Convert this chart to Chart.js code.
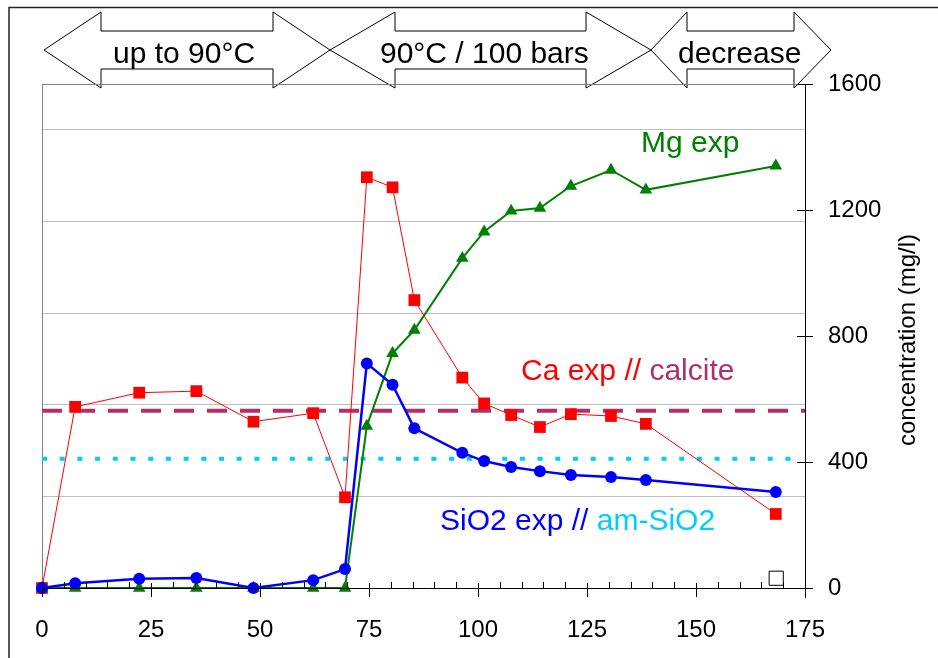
<!DOCTYPE html>
<html>
<head>
<meta charset="utf-8">
<script src="https://cdn.jsdelivr.net/npm/chart.js@4/dist/chart.umd.min.js"></script>
<style>
html,body{margin:0;padding:0;background:#fff;}
#wrap{width:938px;height:658px;position:relative;}
</style>
</head>
<body>
<div id="wrap"><canvas id="c" width="938" height="658"></canvas></div>
<script>
// ---- data ----
const days   = [0, 7.6, 22.3, 35.4, 48.5, 62.2, 69.5, 74.5, 80.4, 85.4, 96.4, 101.4, 107.6, 114.2, 121.3, 130.5, 138.5, 168.3];
const caExp  = [0, 575, 620, 625, 528, 555, 288, 1304, 1272, 914, 668, 586, 549, 511, 552, 546, 521, 235];
const sio2Exp= [0, 15, 29, 32, 0, 25, 60, 713, 645, 507, 429, 403, 384, 371, 359, 352, 343, 305];
const mgExp  = [0, 0, 0, 0, 0, 0, 0, 514, 745, 819, 1047, 1131, 1197, 1206, 1276, 1327, 1264, 1340];
const calciteLevel = 563;
const amSiO2Level  = 410;
const openMarker   = {x: 168.4, y: 31};
const xTickValues  = [0, 25, 50, 75, 100, 125, 150, 175];
const yTickValues  = [0, 400, 800, 1200, 1600];
const phases = ["up to 90°C", "90°C / 100 bars", "decrease"];
const yTitle = "concentration (mg/l)";

const FONT = "'Liberation Sans', Arial, sans-serif";
const pts = arr => days.map((d, i) => ({x: d, y: arr[i]}));

const overlay = {
  id: 'overlay',
  beforeDraw(chart) {
    const ctx = chart.ctx;
    ctx.save();
    ctx.fillStyle = '#fff';
    ctx.fillRect(0, 0, chart.width, chart.height);
    ctx.restore();
  },
  afterDraw(chart) {
    const ctx = chart.ctx;
    const xs = chart.scales.x, ys = chart.scales.y;
    const L = chart.chartArea.left, R = chart.chartArea.right, T = chart.chartArea.top, B = chart.chartArea.bottom;
    ctx.save();
    // outer frame
    ctx.strokeStyle = '#222';
    ctx.lineWidth = 1.5;
    ctx.beginPath();
    ctx.moveTo(9, 660); ctx.lineTo(9, 7.5); ctx.lineTo(940, 7.5);
    ctx.stroke();

    // phase arrows
    const arrows = [
      {l: 44, lb: 101, rb: 273, r: 330},
      {l: 330, lb: 395, rb: 586, r: 651},
      {l: 651, lb: 687, rb: 794, r: 831}
    ];
    const cy = 50, hT = 12, hB = 88, sT = 31, sB = 69;
    ctx.lineWidth = 1;
    ctx.strokeStyle = '#000';
    ctx.fillStyle = '#fff';
    arrows.forEach(a => {
      ctx.beginPath();
      ctx.moveTo(a.l, cy);
      ctx.lineTo(a.lb, hT); ctx.lineTo(a.lb, sT); ctx.lineTo(a.rb, sT); ctx.lineTo(a.rb, hT);
      ctx.lineTo(a.r, cy);
      ctx.lineTo(a.rb, hB); ctx.lineTo(a.rb, sB); ctx.lineTo(a.lb, sB); ctx.lineTo(a.lb, hB);
      ctx.closePath();
      ctx.fill(); ctx.stroke();
    });
    // top border of plot
    ctx.strokeStyle = '#808080';
    ctx.beginPath(); ctx.moveTo(L, T + 0.5); ctx.lineTo(R, T + 0.5); ctx.stroke();

    ctx.fillStyle = '#000';
    ctx.font = '30px ' + FONT;
    ctx.textBaseline = 'alphabetic';
    ctx.textAlign = 'left';
    ctx.fillText(phases[0], 113, 63);
    ctx.fillText(phases[1], 380, 63);
    ctx.fillText(phases[2], 678, 63);

    // axis lines and ticks
    ctx.strokeStyle = '#000';
    ctx.lineWidth = 1;
    ctx.beginPath();
    ctx.moveTo(L, B + 0.5); ctx.lineTo(R + 8, B + 0.5);
    ctx.moveTo(R + 0.5, T); ctx.lineTo(R + 0.5, B + 10);
    ctx.stroke();
    ctx.beginPath();
    for (let v = 0; v <= 175; v += 5) {
      const px = Math.round(xs.getPixelForValue(v)) + 0.5;
      if (v % 25 === 0) { ctx.moveTo(px, B - 5); ctx.lineTo(px, B + 9); }
      else { ctx.moveTo(px, B - 6); ctx.lineTo(px, B); }
    }
    yTickValues.forEach(v => {
      const py = Math.round(ys.getPixelForValue(v)) + 0.5;
      ctx.moveTo(R - 8, py); ctx.lineTo(R + 8, py);
    });
    ctx.stroke();

    // axis title
    ctx.save();
    ctx.font = '24px ' + FONT;
    ctx.fillStyle = '#000';
    ctx.textAlign = 'center';
    ctx.translate(915, 340);
    ctx.rotate(-Math.PI / 2);
    ctx.fillText(yTitle, 0, 0);
    ctx.restore();

    // annotations
    ctx.font = '30px ' + FONT;
    ctx.textAlign = 'left';
    ctx.fillStyle = '#008000';
    ctx.fillText('Mg exp', 641, 152);
    let x0 = 521;
    ctx.fillStyle = '#FF0000';
    ctx.fillText('Ca exp // ', x0, 380);
    x0 += ctx.measureText('Ca exp // ').width;
    ctx.fillStyle = '#B0306A';
    ctx.fillText('calcite', x0, 380);
    x0 = 440;
    ctx.fillStyle = '#0000FF';
    ctx.fillText('SiO2 exp // ', x0, 530);
    x0 += ctx.measureText('SiO2 exp // ').width;
    ctx.fillStyle = '#00CCFF';
    ctx.fillText('am-SiO2', x0, 530);
    ctx.restore();
  }
};

new Chart(document.getElementById('c'), {
  type: 'scatter',
  data: {
    datasets: [
      {label: 'SiO2 exp', data: pts(sio2Exp), yAxisID: 'y', showLine: true, order: 1,
       borderColor: '#0000FF', backgroundColor: '#0000FF', borderWidth: 2.5,
       pointStyle: 'circle', pointRadius: 6, pointBorderWidth: 0, clip: false},
      {label: 'Mg exp', data: pts(mgExp), yAxisID: 'y', showLine: true, order: 2,
       borderColor: '#008000', backgroundColor: '#008000', borderWidth: 2,
       pointStyle: 'triangle', pointRadius: 7.3, pointBorderWidth: 0, clip: false},
      {label: 'Ca exp', data: pts(caExp), yAxisID: 'y', showLine: true, order: 3,
       borderColor: '#FF0000', backgroundColor: '#FF0000', borderWidth: 1,
       pointStyle: 'rect', pointRadius: 8.3, pointBorderWidth: 0, clip: false},
      {label: 'open', data: [openMarker], yAxisID: 'y', showLine: false, order: 4,
       borderColor: '#000', backgroundColor: '#fff', pointBorderWidth: 1,
       pointStyle: 'rect', pointRadius: 10, clip: false},
      {label: 'calcite', data: [{x: 0, y: calciteLevel}, {x: 175, y: calciteLevel}], yAxisID: 'y', showLine: true, order: 5,
       borderColor: '#B0306A', borderWidth: 4, borderDash: [20, 13], pointRadius: 0},
      {label: 'am-SiO2', data: [{x: 0, y: amSiO2Level}, {x: 174, y: amSiO2Level}], yAxisID: 'y', showLine: true, order: 6,
       borderColor: '#00CCFF', borderWidth: 4, borderDash: [5, 12.7], pointRadius: 0}
    ]
  },
  options: {
    responsive: false,
    animation: false,
    events: [],
    layout: {padding: {top: 84, left: 0, right: 0, bottom: 0}},
    plugins: {legend: {display: false}, tooltip: {enabled: false}},
    scales: {
      x: {
        type: 'linear', min: 0, max: 175,
        afterBuildTicks: s => { s.ticks = xTickValues.map(v => ({value: v})); },
        ticks: {font: {family: FONT, size: 24}, color: '#000', padding: 20, maxRotation: 0,
                callback: v => String(v)},
        grid: {display: false},
        border: {display: false},
        afterFit: s => { s.height = 70; }
      },
      y: {
        position: 'right', min: 0, max: 1600,
        afterBuildTicks: s => { s.ticks = yTickValues.map(v => ({value: v})); },
        ticks: {font: {family: FONT, size: 24}, color: '#000', padding: 15,
                callback: v => String(v)},
        grid: {display: false},
        border: {display: false},
        afterFit: s => { s.width = 133; }
      },
      yL: {
        position: 'left', min: 0, max: 55,
        ticks: {display: false, stepSize: 10},
        grid: {color: '#c0c0c0', lineWidth: 1, drawTicks: false},
        border: {display: true, color: '#808080', width: 1},
        afterFit: s => { s.width = 42; }
      }
    }
  },
  plugins: [overlay]
});
</script>
</body>
</html>
